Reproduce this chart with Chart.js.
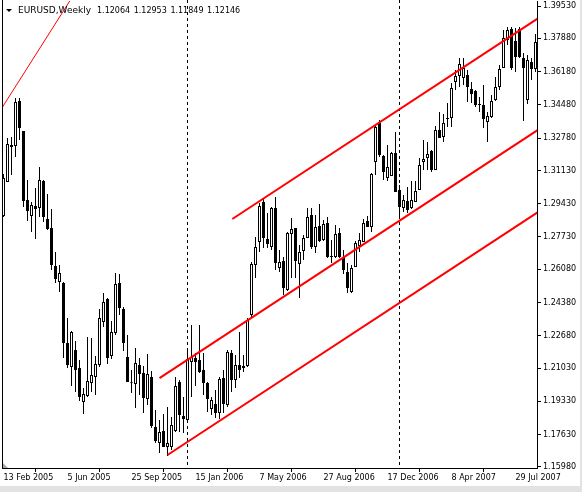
<!DOCTYPE html>
<html>
<head>
<meta charset="utf-8">
<script src="https://cdn.jsdelivr.net/npm/chart.js@4.4.0/dist/chart.umd.min.js"></script>
<style>
    html, body { margin: 0; padding: 0; background: #e2e2e2; }
    #wrap { position: absolute; left: 0; top: 0; width: 580px; height: 486px; background: #fff; }
</style>
</head>
<body>
<div id="wrap"><canvas id="myChart" width="580" height="486"></canvas></div>
<script>
// EURUSD weekly, first bar = week of 13 Feb 2005
const opens = [1.2880,1.3054,1.3243,1.3238,1.3468,1.3315,1.2962,1.2880,1.2931,1.2921,1.3059,1.2865,1.2819,1.2625,1.2543,1.2538,1.2231,1.2109,1.2196,1.2104,
    1.1930,1.1960,1.2027,1.2058,1.2119,1.2339,1.2456,1.2165,1.2282,1.2538,1.2405,1.2160,1.2027,1.2022,1.2119,1.2078,1.1945,1.2058,1.1802,1.1720,
    1.1782,1.1700,1.1700,1.1782,1.2032,1.1858,1.1838,1.2134,1.2155,1.2144,1.2093,1.2027,1.1894,1.1920,1.1874,1.2052,1.1915,1.2180,1.2042,1.2119,
    1.2114,1.2114,1.2374,1.2630,1.2747,1.2952,1.2763,1.2722,1.2921,1.2615,1.2650,1.2502,1.2788,1.2819,1.2635,1.2702,1.2768,1.2885,1.2722,1.2829,
    1.2758,1.2844,1.2676,1.2671,1.2793,1.2671,1.2594,1.2492,1.2620,1.2727,1.2747,1.2855,1.2824,1.3156,1.3355,1.3187,1.3074,1.3085,1.3202,1.3013,
    1.2921,1.2957,1.2921,1.2952,1.3013,1.3156,1.3177,1.3212,1.3115,1.3320,1.3284,1.3381,1.3381,1.3565,1.3596,1.3586,1.3601,1.3529,1.3519,1.3453,
    1.3447,1.3361,1.3386,1.3473,1.3539,1.3637,1.3780,1.3836,1.3774,1.3836,1.3688,1.3473,1.3667,1.3631];
const highs = [1.3095,1.3279,1.3284,1.3483,1.3483,1.3315,1.3064,1.2952,1.3023,1.3131,1.3064,1.2993,1.2916,1.2696,1.2630,1.2543,1.2359,1.2293,1.2241,1.2144,
    1.2001,1.2262,1.2257,1.2165,1.2405,1.2487,1.2461,1.2344,1.2589,1.2584,1.2415,1.2272,1.2093,1.2206,1.2155,1.2114,1.2175,1.2088,1.1889,1.1838,
    1.1869,1.1904,1.1853,1.2058,1.2042,1.1955,1.2190,1.2323,1.2180,1.2323,1.2180,1.2032,1.1955,1.1991,1.2058,1.2093,1.2196,1.2196,1.2170,1.2288,
    1.2170,1.2359,1.2645,1.2773,1.2947,1.2967,1.2896,1.2926,1.2977,1.2707,1.2671,1.2798,1.2870,1.2819,1.2732,1.2783,1.2921,1.2921,1.2885,1.2942,
    1.2860,1.2875,1.2758,1.2834,1.2819,1.2707,1.2640,1.2630,1.2753,1.2793,1.2865,1.2880,1.3100,1.3345,1.3371,1.3192,1.3243,1.3207,1.3309,1.3039,
    1.2988,1.3028,1.3059,1.3059,1.3177,1.3269,1.3258,1.3218,1.3340,1.3412,1.3401,1.3458,1.3560,1.3626,1.3688,1.3688,1.3626,1.3565,1.3524,1.3488,
    1.3550,1.3412,1.3499,1.3591,1.3652,1.3831,1.3846,1.3846,1.3841,1.3846,1.3713,1.3703,1.3688,1.3810];
const lows = [1.2875,1.3054,1.3090,1.3182,1.3269,1.2926,1.2855,1.2798,1.2763,1.2875,1.2850,1.2809,1.2604,1.2538,1.2492,1.2155,1.2104,1.2012,1.1981,1.1935,
    1.1869,1.1955,1.1981,1.1966,1.2109,1.2313,1.2124,1.2149,1.2272,1.2374,1.2190,1.2032,1.1976,1.1899,1.1966,1.1874,1.1915,1.1797,1.1720,1.1669,
    1.1700,1.1654,1.1685,1.1776,1.1776,1.1771,1.1838,1.1955,1.2012,1.2078,1.1966,1.1879,1.1863,1.1848,1.1843,1.1874,1.1904,1.1981,1.2001,1.2052,
    1.2083,1.2109,1.2359,1.2563,1.2696,1.2717,1.2717,1.2707,1.2604,1.2594,1.2477,1.2497,1.2563,1.2563,1.2461,1.2655,1.2768,1.2712,1.2691,1.2747,
    1.2753,1.2666,1.2640,1.2666,1.2666,1.2584,1.2487,1.2487,1.2620,1.2696,1.2747,1.2824,1.2798,1.3090,1.3182,1.3064,1.3059,1.3085,1.3003,1.2870,
    1.2901,1.2896,1.2916,1.2952,1.3013,1.3115,1.3115,1.3105,1.3115,1.3279,1.3258,1.3335,1.3335,1.3524,1.3539,1.3550,1.3463,1.3458,1.3437,1.3412,
    1.3330,1.3258,1.3381,1.3468,1.3524,1.3637,1.3754,1.3626,1.3616,1.3688,1.3366,1.3453,1.3575,1.3616];
const closes = [1.3074,1.3248,1.3233,1.3463,1.3330,1.2957,1.2906,1.2936,1.2916,1.3064,1.2875,1.2814,1.2630,1.2558,1.2589,1.2231,1.2119,1.2288,1.2093,1.1955,
    1.1971,1.2037,1.2068,1.2124,1.2359,1.2441,1.2155,1.2288,1.2533,1.2410,1.2231,1.2032,1.2025,1.2129,1.2073,1.1950,1.2073,1.1807,1.1731,1.1776,
    1.1700,1.1720,1.1812,1.2012,1.1863,1.1843,1.2149,1.2160,1.2134,1.2083,1.2027,1.1945,1.1940,1.1874,1.2047,1.1920,1.2185,1.2042,1.2119,1.2093,
    1.2104,1.2349,1.2635,1.2722,1.2931,1.2768,1.2737,1.2921,1.2640,1.2645,1.2512,1.2793,1.2814,1.2650,1.2696,1.2768,1.2875,1.2722,1.2824,1.2753,
    1.2839,1.2671,1.2671,1.2788,1.2671,1.2604,1.2512,1.2615,1.2742,1.2758,1.2844,1.2824,1.3095,1.3335,1.3192,1.3105,1.3131,1.3202,1.3003,1.2926,
    1.2962,1.2911,1.2962,1.3008,1.3141,1.3172,1.3197,1.3115,1.3320,1.3279,1.3355,1.3376,1.3534,1.3596,1.3657,1.3637,1.3539,1.3504,1.3447,1.3447,
    1.3376,1.3391,1.3468,1.3539,1.3631,1.3790,1.3831,1.3637,1.3693,1.3693,1.3637,1.3677,1.3631,1.3769];

const tickBars = [0, 16, 32, 48, 64, 80, 96, 112, 128];
const tickLabels = ['13 Feb 2005', '5 Jun 2005', '25 Sep 2005', '15 Jan 2006', '7 May 2006', '27 Aug 2006', '17 Dec 2006', '8 Apr 2007', '29 Jul 2007'];
const priceTicks = [1.39530, 1.37880, 1.36180, 1.34480, 1.32780, 1.31130, 1.29430, 1.27730, 1.26080, 1.24380, 1.22680, 1.21030, 1.19330, 1.17630, 1.15980];
const separatorBars = [46, 99]; // year breaks
const headerValues = [1.12064, 1.12953, 1.11849, 1.12146];

// trend lines drawn on the chart, [bar, price] pairs
const channelTop = [[57.2, 1.2865], [134.5, 1.3902]];
const channelMid = [[39.0, 1.2052], [134.5, 1.3332]];
const channelLow = [[41.0, 1.1659], [134.5, 1.2912]];
const oldTrend = [[-1.0, 1.3413], [16.75, 1.3985]];

Chart.defaults.font.family = '"DejaVu Sans", Verdana, sans-serif';
Chart.defaults.font.size = 8;
Chart.defaults.color = '#000';

const bars = opens.map((o, i) => i);
const isBull = (i) => closes[i] >= opens[i];

function lineSet(points, width) {
    return {
        type: 'line',
        data: points.map(p => ({ x: p[0], y: p[1] })),
        borderColor: '#ff0000',
        borderWidth: width,
        pointRadius: 0,
        clip: 0,
        order: 0
    };
}

const mtDecor = {
    id: 'mtDecor',
    beforeDatasetsDraw(chart) {
        const { ctx, chartArea, scales: { x } } = chart;
        ctx.save();
        ctx.strokeStyle = '#000';
        ctx.lineWidth = 1;
        ctx.setLineDash([3, 3]);
        separatorBars.forEach(b => {
            const px = Math.floor(x.getPixelForValue(b)) + 0.5;
            ctx.beginPath();
            ctx.moveTo(px, 0);
            ctx.lineTo(px, chartArea.bottom);
            ctx.stroke();
        });
        ctx.restore();
    },
    afterDraw(chart) {
        const { ctx, chartArea } = chart;
        ctx.save();
        // left frame
        ctx.strokeStyle = '#000';
        ctx.lineWidth = 1;
        ctx.beginPath();
        ctx.moveTo(chartArea.left + 0.5, 0);
        ctx.lineTo(chartArea.left + 0.5, chartArea.bottom);
        ctx.stroke();
        // shift marker
        ctx.fillStyle = '#a8a8a8';
        ctx.beginPath();
        ctx.moveTo(3, 463);
        ctx.lineTo(8, 468);
        ctx.lineTo(3, 468);
        ctx.closePath();
        ctx.fill();
        // header
        ctx.fillStyle = '#000';
        ctx.beginPath();
        ctx.moveTo(6, 9);
        ctx.lineTo(12, 9);
        ctx.lineTo(9, 12);
        ctx.closePath();
        ctx.fill();
        ctx.textBaseline = 'middle';
        ctx.font = '9px "DejaVu Sans"';
        ctx.fillText('EURUSD,Weekly', 18, 11);
        ctx.font = '8px "DejaVu Sans"';
        headerValues.forEach((v, i) => {
            ctx.fillText(v.toFixed(5), 97 + i * 36.7, 11);
        });
        ctx.restore();
    }
};

const config = {
    type: 'bar',
    data: {
        datasets: [
            lineSet(channelTop, 2),
            lineSet(channelMid, 2),
            lineSet(channelLow, 2),
            lineSet(oldTrend, 1),
            {
                label: 'body',
                data: bars.map(i => ({ x: i, y: [opens[i], closes[i]] })),
                backgroundColor: (c) => isBull(c.dataIndex) ? '#fff' : '#000',
                borderColor: '#000',
                borderWidth: 1,
                borderSkipped: false,
                barThickness: 3,
                minBarLength: 1,
                inflateAmount: 0,
                grouped: false,
                order: 1
            },
            {
                label: 'wick',
                data: bars.map(i => ({ x: i, y: [lows[i], highs[i]] })),
                backgroundColor: '#000',
                borderWidth: 0,
                barThickness: 1,
                inflateAmount: 0,
                grouped: false,
                order: 2
            }
        ]
    },
    options: {
        responsive: false,
        animation: false,
        layout: { padding: { left: 2, top: 1, right: 0, bottom: 0 } },
        plugins: { legend: { display: false }, tooltip: { enabled: false } },
        scales: {
            x: {
                type: 'linear',
                min: -0.375,
                max: 133.375,
                offset: false,
                afterFit: (scale) => {
                    scale.height = 18;
                    scale.paddingLeft = 0;
                    scale.paddingRight = 0;
                },
                afterBuildTicks: (scale) => {
                    scale.ticks = tickBars.map(v => ({ value: v }));
                },
                grid: { drawOnChartArea: false, drawTicks: true, tickLength: 4, color: '#000' },
                border: { display: true, color: '#000', width: 1 },
                ticks: {
                    autoSkip: false,
                    maxRotation: 0,
                    align: 'start',
                    padding: 1,
                    callback: (value) => tickLabels[tickBars.indexOf(value)]
                }
            },
            y: {
                type: 'linear',
                position: 'right',
                min: 1.159252,
                max: 1.397889,
                afterFit: (scale) => {
                    scale.width = 43;
                    scale.paddingTop = 0;
                    scale.paddingBottom = 0;
                },
                afterBuildTicks: (scale) => {
                    scale.ticks = priceTicks.map(v => ({ value: v }));
                },
                grid: { drawOnChartArea: false, drawTicks: true, tickLength: 4, color: '#000' },
                border: { display: true, color: '#000', width: 1 },
                ticks: {
                    padding: 2,
                    callback: (value) => value.toFixed(5)
                }
            }
        }
    },
    plugins: [mtDecor]
};

const myChart = new Chart(document.getElementById('myChart'), config);
</script>
</body>
</html>
